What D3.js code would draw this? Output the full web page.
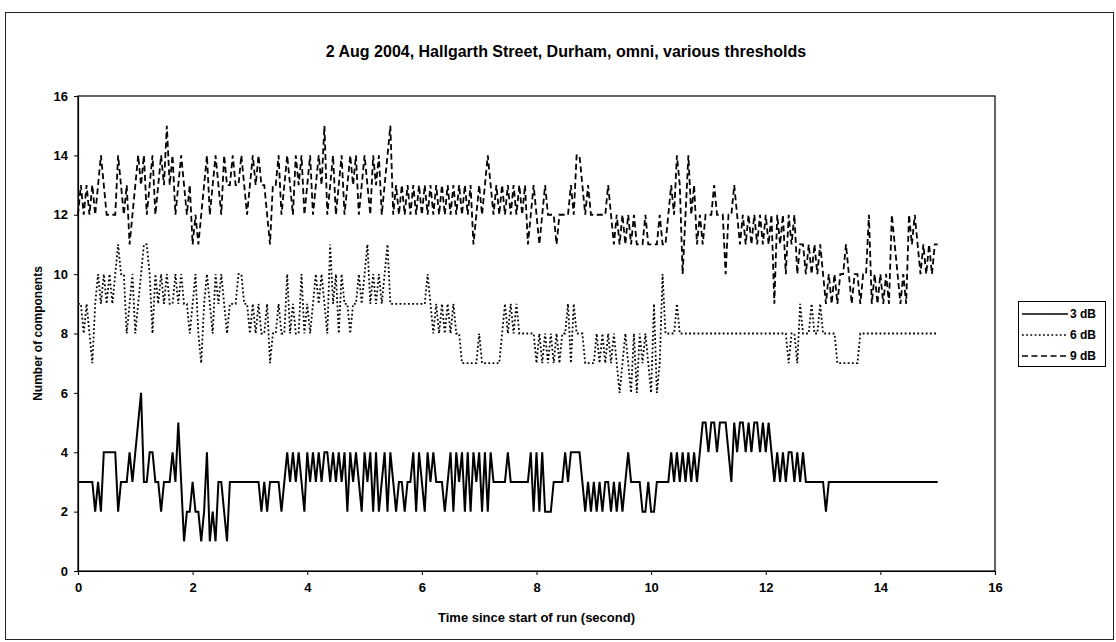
<!DOCTYPE html>
<html><head><meta charset="utf-8">
<script src="https://cdn.jsdelivr.net/npm/d3@7"></script>
<style>
body{margin:0;background:#fff}
svg{display:block}
text{font-family:"Liberation Sans",Arial,sans-serif;font-weight:bold;fill:#000}
</style>
</head><body>
<svg id="chart" width="1116" height="642"></svg>
<script>
const sampleStep = 0.05;
const db3 = [
3,3,3,3,3,3,2,3,2,4,4,4,4,4,2,3,3,3,4,3,
4,5,6,3,3,4,4,3,3,2,3,3,3,4,3,5,3,1,2,2,
3,2,2,1,2,4,1,2,1,3,3,2,1,3,3,3,3,3,3,3,
3,3,3,3,2,3,2,3,3,3,3,2,3,4,3,4,3,4,3,2,
4,3,4,3,4,3,4,4,3,4,3,4,3,4,2,4,3,4,3,2,
4,3,4,2,4,2,3,4,2,4,3,2,3,3,2,3,3,4,2,4,
3,2,4,3,4,3,3,3,2,3,4,2,4,3,4,2,4,2,4,3,
4,2,4,2,4,3,3,3,3,3,4,3,3,3,3,3,3,3,4,2,
4,2,4,2,2,2,3,3,3,3,4,3,4,4,4,4,3,2,3,2,
3,2,3,2,3,3,2,3,2,3,2,3,4,3,3,3,3,2,2,3,
2,2,3,3,3,3,3,4,3,4,3,4,3,4,3,4,3,4,5,5,
4,5,5,4,5,5,5,4,3,5,4,5,5,4,5,4,5,5,4,5,
4,5,4,3,4,3,4,3,4,4,3,4,3,4,3,3,3,3,3,3,
3,2,3,3,3,3,3,3,3,3,3,3,3,3,3,3,3,3,3,3,
3,3,3,3,3,3,3,3,3,3,3,3,3,3,3,3,3,3,3,3,
3];
const db6 = [
9,9,8,9,8,7,9,10,9,10,9,10,9,10,11,10,10,8,9,10,
8,9,10,11,11,10,8,10,9,10,9,10,9,9,10,9,10,9,9,8,
9,10,8,7,9,10,9,8,10,9,10,9,8,9,9,9,10,10,9,9,
8,9,8,9,8,8,9,7,8,8,9,8,8,10,8,9,8,8,10,8,
9,8,9,10,9,10,9,8,11,9,10,8,10,9,9,8,9,9,10,9,
10,11,9,10,9,10,9,10,11,9,9,9,9,9,9,9,9,9,9,9,
9,9,10,9,8,9,8,9,8,9,8,9,8,8,7,7,7,7,7,7,
8,7,7,7,7,7,7,7,8,9,8,9,8,9,8,8,8,8,8,8,
7,8,7,8,7,8,7,8,7,8,8,9,7,9,8,8,8,7,7,7,
7,8,7,8,7,8,7,8,7,6,7,8,7,6,8,6,8,7,8,7,
6,9,6,7,10,8,8,8,8,9,8,8,8,8,8,8,8,8,8,8,
8,8,8,8,8,8,8,8,8,8,8,8,8,8,8,8,8,8,8,8,
8,8,8,8,8,8,8,8,7,8,8,7,9,8,8,8,9,8,8,9,
8,8,8,8,8,7,7,7,7,7,7,7,7,8,8,8,8,8,8,8,
8,8,8,8,8,8,8,8,8,8,8,8,8,8,8,8,8,8,8,8,
8];
const db9 = [
12,13,12,13,12,13,12,13,14,13,12,12,12,12,14,13,12,13,11,12,
13,14,13,14,12,13,14,12,13,14,13,15,13,14,12,13,14,13,12,13,
11,12,11,12,13,14,12,13,14,13,12,14,13,13,14,13,13,14,13,12,
13,14,13,14,13,13,12,11,13,13,14,12,13,14,13,12,14,13,14,12,
13,14,12,13,14,13,15,12,13,14,12,13,14,12,13,14,13,14,12,13,
14,13,12,14,13,14,12,13,14,15,12,13,12,13,12,13,12,13,12,13,
12,13,12,13,12,13,12,13,12,13,12,13,12,13,12,13,12,13,11,12,
13,12,13,14,13,12,13,12,13,12,13,12,13,12,13,12,13,11,12,13,
12,11,12,13,12,12,12,11,12,12,12,12,13,12,14,14,13,12,13,12,
12,12,12,12,12,13,12,11,12,11,12,11,12,11,12,11,11,11,12,11,
11,11,11,12,11,11,12,13,12,14,13,10,12,14,12,13,11,12,11,12,
12,12,13,12,12,12,10,12,12,13,12,11,12,11,12,11,12,11,12,11,
12,11,12,9,12,11,12,10,12,11,12,10,11,11,10,11,10,11,10,11,
10,9,10,9,10,9,10,10,11,10,9,10,10,9,10,10,12,9,10,9,
10,9,10,9,12,11,10,9,10,9,12,11,12,11,10,11,10,11,10,11,
11];
const seriesNames = ["3 dB", "6 dB", "9 dB"];
const xTicks = [0, 2, 4, 6, 8, 10, 12, 14, 16];
const yTicks = [0, 2, 4, 6, 8, 10, 12, 14, 16];
const titleText = "2 Aug 2004, Hallgarth Street, Durham, omni, various thresholds";
const xTitle = "Time since start of run (second)";
const yTitle = "Number of components";

// ---- drawing ----
const svg = d3.select("#chart");
const W = 1116, H = 642;
const plot = {left: 78, right: 995, top: 96, bottom: 571};
const x = d3.scaleLinear().domain([0, 16]).range([plot.left, plot.right]);
const y = d3.scaleLinear().domain([0, 16]).range([plot.bottom, plot.top]);

svg.append("rect").attr("width", W).attr("height", H).attr("fill", "#fff");
svg.append("rect").attr("x", 5.5).attr("y", 12.5).attr("width", 1108).attr("height", 627)
  .attr("fill", "none").attr("stroke", "#222").attr("stroke-width", 1);

svg.append("text").attr("x", 566).attr("y", 57).attr("text-anchor", "middle")
  .style("font-size", "16px").text(titleText);

svg.append("rect").attr("x", plot.left).attr("y", plot.top)
  .attr("width", plot.right - plot.left).attr("height", plot.bottom - plot.top)
  .attr("fill", "none").attr("stroke", "#000").attr("stroke-width", 1.2);

const xAxis = d3.axisBottom(x).tickValues(xTicks).tickSize(4).tickPadding(8).tickFormat(d3.format("d"));
const gx = svg.append("g").attr("transform", `translate(0,${plot.bottom})`).call(xAxis);
const yAxis = d3.axisLeft(y).tickValues(yTicks).tickSize(4).tickPadding(6).tickFormat(d3.format("d"));
const gy = svg.append("g").attr("transform", `translate(${plot.left},0)`).call(yAxis);
[gx, gy].forEach(g => {
  g.select(".domain").attr("stroke", "#000").attr("stroke-width", 1.2);
  g.selectAll(".tick line").attr("stroke", "#000");
  g.selectAll(".tick text").style("font-size", "13px").style("font-family", '"Liberation Sans",Arial,sans-serif').style("font-weight", "bold").attr("fill", "#000");
});

svg.append("text").attr("x", (plot.left + plot.right) / 2).attr("y", 622).attr("text-anchor", "middle")
  .style("font-size", "13px").text(xTitle);
svg.append("text").attr("transform", `translate(42,${(plot.top + plot.bottom) / 2}) rotate(-90)`)
  .attr("text-anchor", "middle").style("font-size", "12px").text(yTitle);

const seriesData = [db3, db6, db9];
const dashes = [null, "1.8,2.4", "6,3.5"];
const line = d3.line().x((d, i) => x(i * sampleStep)).y(d => y(d));
[2, 1, 0].forEach(k => {
  svg.append("path").datum(seriesData[k]).attr("d", line)
    .attr("fill", "none").attr("stroke", "#000").attr("stroke-width", k === 0 ? 2 : 1.8)
    .attr("stroke-dasharray", dashes[k]);
});

const lg = svg.append("g");
lg.append("rect").attr("x", 1018.5).attr("y", 301.5).attr("width", 87).attr("height", 65)
  .attr("fill", "#fff").attr("stroke", "#000").attr("stroke-width", 1);
seriesNames.forEach((name, k) => {
  const yy = 314 + k * 21;
  lg.append("line").attr("x1", 1022).attr("x2", 1068).attr("y1", yy).attr("y2", yy)
    .attr("stroke", "#000").attr("stroke-width", 1.6).attr("stroke-dasharray", dashes[k]);
  lg.append("text").attr("x", 1070).attr("y", yy + 4).style("font-size", "12px").text(name);
});
</script>
</body></html>
